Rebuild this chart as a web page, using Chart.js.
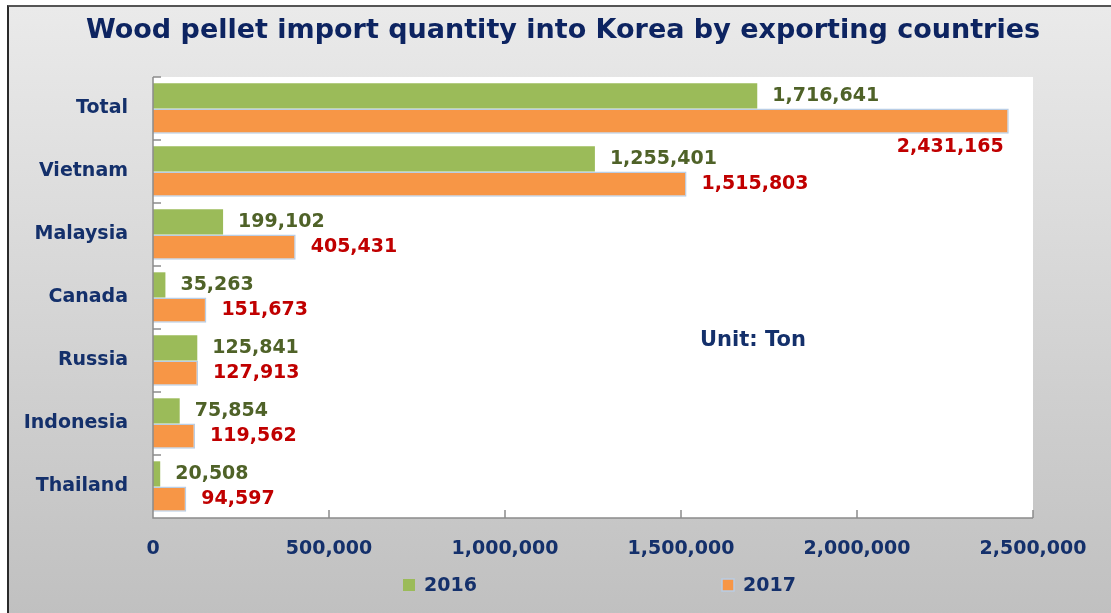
<!DOCTYPE html>
<html>
<head>
<meta charset="utf-8">
<script src="https://cdn.jsdelivr.net/npm/chart.js@4.4.1/dist/chart.umd.min.js"></script>
<style>
  html, body { margin: 0; padding: 0; background: #fff; }
  #frame {
    position: absolute; left: 7px; top: 5px; width: 1104px; height: 608px;
    border-left: 2px solid #2a2a2a; border-top: 2px solid #555;
    background: linear-gradient(#eaeaea, #c0c0c0);
  }
  canvas { position: absolute; left: 0; top: 0; }
</style>
</head>
<body>
<div id="frame"></div>
<canvas id="pelletChart" width="1111" height="613"></canvas>
<script>
// wood pellet imports, tons
const categories = ['Total', 'Vietnam', 'Malaysia', 'Canada', 'Russia', 'Indonesia', 'Thailand'];
const imports2016 = [1716641, 1255401, 199102, 35263, 125841, 75854, 20508];
const imports2017 = [2431165, 1515803, 405431, 151673, 127913, 119562, 94597];
const xTickValues = [0, 500000, 1000000, 1500000, 2000000, 2500000];

const navy = '#14306b';
const fontFamily = '"DejaVu Sans", Verdana, sans-serif';
const labelColors = ['#4f6228', '#c00000'];

const decorPlugin = {
    id: 'decor',
    beforeDatasetsDraw(chart) {
        const ctx = chart.ctx;
        const a = chart.chartArea;
        ctx.save();
        ctx.fillStyle = '#ffffff';
        ctx.fillRect(a.left, a.top, a.right - a.left, a.bottom - a.top);
        ctx.restore();
    },
    afterDatasetsDraw(chart) {
        const ctx = chart.ctx;
        const a = chart.chartArea;
        const xs = chart.scales.x;
        ctx.save();

        // axis lines + inner tick marks
        ctx.strokeStyle = '#8c8c8c';
        ctx.lineWidth = 1.5;
        ctx.beginPath();
        ctx.moveTo(a.left, a.top); ctx.lineTo(a.left, a.bottom); ctx.lineTo(a.right, a.bottom);
        xTickValues.forEach(v => {
            const px = xs.getPixelForValue(v);
            ctx.moveTo(px, a.bottom); ctx.lineTo(px, a.bottom - 8);
        });
        const step = (a.bottom - a.top) / categories.length;
        for (let i = 0; i < categories.length; i++) {
            const py = a.top + i * step;
            ctx.moveTo(a.left, py); ctx.lineTo(a.left + 8, py);
        }
        ctx.stroke();

        // value labels
        ctx.font = 'bold 19px ' + fontFamily;
        ctx.textBaseline = 'middle';
        chart.data.datasets.forEach((ds, di) => {
            const meta = chart.getDatasetMeta(di);
            meta.data.forEach((bar, i) => {
                const txt = ds.data[i].toLocaleString('en-US');
                const w = ctx.measureText(txt).width;
                ctx.fillStyle = labelColors[di];
                if (bar.x + 15 + w > chart.width - 5) {
                    ctx.textAlign = 'right';
                    ctx.fillText(txt, bar.x - 5, bar.y + bar.height / 2 + 13);
                } else {
                    ctx.textAlign = 'left';
                    ctx.fillText(txt, bar.x + 15, bar.y);
                }
            });
        });

        // title
        ctx.fillStyle = '#0d2461';
        ctx.textAlign = 'center';
        ctx.font = 'bold 27px ' + fontFamily;
        ctx.fillText('Wood pellet import quantity into Korea by exporting countries', 563, 31);

        // unit note
        ctx.fillStyle = navy;
        ctx.font = 'bold 21px ' + fontFamily;
        ctx.textAlign = 'left';
        ctx.fillText('Unit: Ton', 700, 341);

        // legend
        const legendX = [403, 722];
        ctx.font = 'bold 19px ' + fontFamily;
        chart.data.datasets.forEach((ds, di) => {
            const lx = legendX[di];
            ctx.fillStyle = ds.backgroundColor;
            ctx.fillRect(lx, 579, 12, 12);
            if (di === 1) {
                ctx.strokeStyle = ds.borderColor;
                ctx.lineWidth = 1.5;
                ctx.strokeRect(lx, 579, 12, 12);
            }
            ctx.fillStyle = navy;
            ctx.fillText(ds.label, lx + 21, 586);
        });
        ctx.restore();
    }
};

new Chart(document.getElementById('pelletChart'), {
    type: 'bar',
    data: {
        labels: categories,
        datasets: [{
            label: '2016',
            data: imports2016,
            backgroundColor: '#9bbb59',
            borderWidth: 0,
            categoryPercentage: 0.8,
            barPercentage: 1.0
        }, {
            label: '2017',
            data: imports2017,
            backgroundColor: '#f79646',
            borderColor: '#b9cde5',
            borderWidth: 1.5,
            categoryPercentage: 0.8,
            barPercentage: 1.0
        }]
    },
    options: {
        indexAxis: 'y',
        responsive: false,
        animation: false,
        layout: { padding: { top: 77, right: 78, left: 0, bottom: 0 } },
        plugins: {
            legend: { display: false },
            title: { display: false },
            tooltip: { enabled: false }
        },
        scales: {
            x: {
                min: 0,
                max: 2500000,
                afterBuildTicks: scale => { scale.ticks = xTickValues.map(v => ({ value: v })); },
                afterFit: scale => { scale.height = 95; },
                grid: { display: false, drawTicks: false },
                border: { display: false },
                ticks: {
                    padding: 20,
                    color: navy,
                    font: { family: fontFamily, size: 19, weight: 'bold' },
                    callback: v => v.toLocaleString('en-US')
                }
            },
            y: {
                afterFit: scale => { scale.width = 153; },
                grid: { display: false, drawTicks: false },
                border: { display: false },
                ticks: {
                    padding: 25,
                    color: navy,
                    font: { family: fontFamily, size: 19, weight: 'bold' }
                }
            }
        }
    },
    plugins: [decorPlugin]
});
</script>
</body>
</html>
